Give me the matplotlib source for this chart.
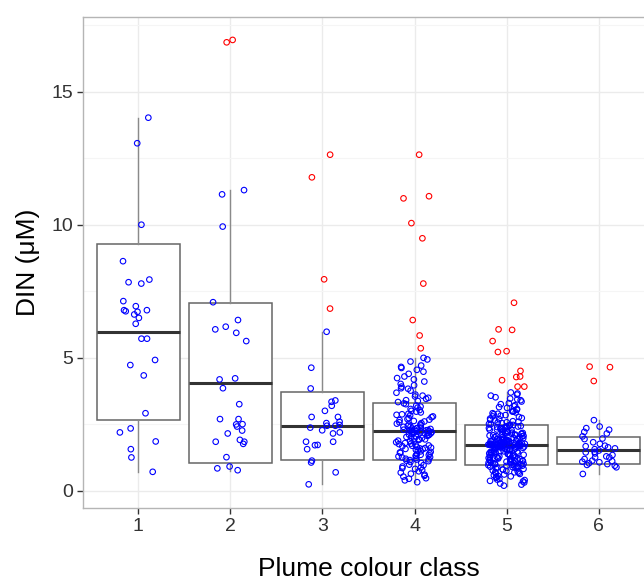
import numpy as np
import matplotlib.pyplot as plt

plt.rcParams["font.family"] = ["Liberation Sans", "DejaVu Sans"]

classes = [1, 2, 3, 4, 5, 6]

# box statistics per plume colour class
q1 = [2.66, 1.04, 1.17, 1.16, 0.99, 1.01]
med = [5.98, 4.07, 2.45, 2.25, 1.73, 1.54]
q3 = [9.28, 7.05, 3.70, 3.32, 2.47, 2.03]
whislo = [0.72, 0.76, 0.25, 0.33, 0.20, 0.64]
whishi = [14.02, 11.30, 5.98, 5.00, 3.70, 2.66]

# DIN samples (uM) inside the whiskers
din_1 = [8.63, 7.84, 7.94, 7.79, 7.13, 6.94, 6.73, 6.75, 6.79, 6.79, 6.63, 6.50,
         6.28, 5.72, 5.72, 4.92, 4.73, 4.34, 2.92, 2.35, 2.20, 1.86, 1.57, 1.26,
         0.72, 10.0, 13.06, 14.02]
din_2 = [7.09, 6.42, 6.17, 6.07, 5.94, 5.63, 4.19, 4.23, 3.86, 3.26, 2.70, 2.70,
         2.51, 2.50, 2.42, 2.27, 2.16, 1.92, 1.85, 1.85, 1.77, 1.27, 0.92, 0.85,
         0.78, 9.93, 11.30, 11.14]
din_3 = [5.98, 4.63, 3.85, 3.35, 3.20, 3.01, 2.78, 2.78, 2.45, 2.38, 2.48, 2.45,
         2.55, 2.20, 2.16, 1.85, 1.85, 1.73, 1.57, 1.07, 1.14, 0.70, 0.25, 1.72,
         2.28, 3.40, 2.60]
din_4 = [3.34, 4.71, 2.26, 1.52, 0.88, 2.95, 3.62, 1.18, 2.41, 1.97,
         4.02, 2.19, 1.33, 0.61, 3.08, 2.53, 1.74, 2.30, 4.48, 1.09,
         2.84, 1.41, 3.77, 2.12, 0.46, 1.86, 2.66, 3.21, 1.27, 2.35,
         5.00, 1.63, 2.07, 0.97, 3.46, 2.28, 1.58, 4.19, 2.74, 1.21,
         0.33, 2.44, 1.92, 3.13, 1.45, 2.22, 4.86, 0.79, 2.58, 1.68,
         3.55, 2.01, 1.36, 2.90, 0.54, 2.33, 1.80, 3.92, 1.14, 2.49,
         4.30, 1.55, 2.16, 0.69, 3.01, 2.38, 1.71, 2.80, 4.62, 1.24,
         2.24, 1.89, 3.38, 0.92, 2.61, 1.47, 2.04, 3.69, 1.30, 2.27,
         4.94, 0.40, 2.46, 1.78, 3.26, 1.99, 2.70, 1.16, 4.11, 2.31,
         1.61, 0.83, 2.88, 2.14, 3.50, 1.39, 2.21, 1.83, 4.40, 0.57,
         2.55, 1.66, 3.17, 2.09, 1.05, 2.98, 2.36, 1.49, 3.84, 2.25,
         0.74, 1.94, 2.63, 4.24, 1.32, 2.18, 3.04, 1.60, 2.42, 0.99,
         3.58, 1.76, 2.29, 1.12, 2.77, 4.66, 1.43, 2.11, 0.65, 3.41,
         1.87, 2.50, 1.26, 3.97, 2.20, 1.57, 2.86, 0.48, 2.34, 1.70,
         4.55, 2.03, 1.35, 3.29, 2.24, 0.86, 1.95, 2.68, 1.19, 3.86]
din_5 = [1.72, 0.98, 2.46, 1.35, 3.12, 1.81, 0.62, 2.05, 1.58, 2.88,
         1.24, 1.76, 0.41, 2.31, 1.66, 3.52, 1.09, 1.93, 2.60, 0.85,
         1.70, 2.17, 1.43, 0.73, 2.74, 1.88, 1.15, 3.30, 1.62, 2.39,
         0.95, 1.79, 2.52, 1.31, 0.28, 2.09, 1.74, 3.66, 1.02, 1.55,
         2.22, 1.84, 0.68, 2.95, 1.47, 1.71, 1.19, 2.43, 0.90, 3.05,
         1.68, 2.12, 1.38, 0.52, 2.65, 1.77, 1.06, 1.99, 3.41, 1.28,
         1.73, 0.80, 2.34, 1.60, 1.92, 1.12, 2.80, 0.36, 1.75, 2.18,
         1.50, 3.22, 0.97, 1.86, 2.48, 1.21, 1.69, 0.59, 2.03, 3.70,
         1.41, 1.78, 2.27, 0.88, 1.64, 2.99, 1.16, 1.95, 0.45, 2.57,
         1.74, 1.33, 2.14, 1.03, 3.15, 1.82, 0.77, 2.40, 1.57, 1.26,
         2.70, 1.72, 0.93, 2.07, 1.45, 3.58, 1.89, 1.10, 0.20, 2.29,
         1.66, 2.51, 1.36, 0.83, 1.97, 2.85, 1.22, 1.76, 0.66, 2.20,
         3.36, 1.53, 1.80, 1.00, 2.44, 1.70, 0.50, 2.10, 1.30, 2.92,
         1.85, 1.18, 2.36, 0.91, 1.62, 3.08, 1.74, 0.71, 2.01, 1.48,
         2.62, 1.39, 1.91, 0.32, 2.24, 1.77, 1.07, 3.47, 1.59, 2.15,
         0.86, 1.71, 2.55, 1.25, 1.94, 0.57, 2.78, 1.44, 1.83, 1.13,
         2.33, 3.26, 1.67, 0.99, 2.06, 1.52, 0.75, 2.45, 1.79, 1.20,
         2.98, 1.73, 0.43, 2.19, 1.34, 1.87, 2.67, 1.05, 3.62, 1.61,
         0.94, 2.38, 1.75, 1.28, 2.02, 0.64, 2.83, 1.49, 1.90, 1.11,
         3.18, 1.69, 2.26, 0.81, 1.56, 2.49, 1.37, 0.24, 1.98, 2.72,
         1.72, 1.17, 2.11, 0.89, 3.00, 1.84, 1.42, 2.42, 0.55, 1.65,
         1.96, 2.30, 1.02, 3.44, 1.78, 1.23, 2.58, 0.70, 1.54, 2.08,
         1.81, 0.96, 2.35, 1.46, 1.74, 2.90, 1.14, 0.38, 1.88, 2.16]
din_6 = [2.66, 2.42, 2.36, 2.22, 2.16, 2.05, 1.97, 1.95, 1.70, 1.64, 1.60, 1.57,
         1.47, 1.41, 1.30, 1.26, 1.20, 1.14, 1.10, 1.04, 1.01, 0.95, 0.89, 0.64,
         1.26, 1.35, 1.52, 1.83, 2.30, 1.12, 1.68, 1.08, 1.45, 0.98, 1.77]

# outlying samples
out_1 = []
out_2 = [16.94, 16.85]
out_3 = [12.63, 11.78, 7.95, 6.85]
out_4 = [12.63, 11.07, 10.99, 10.06, 9.49, 7.79, 6.42, 5.84, 5.36]
out_5 = [7.07, 6.07, 6.05, 5.63, 5.25, 5.22, 4.51, 4.30, 4.28, 4.16, 3.92, 3.92]
out_6 = [4.67, 4.65, 4.13]

inliers = [din_1, din_2, din_3, din_4, din_5, din_6]
outliers = [out_1, out_2, out_3, out_4, out_5, out_6]

fig = plt.figure(figsize=(6.44, 5.81), dpi=100)
ax = fig.add_axes([0.1289, 0.1256, 0.8866, 0.8451])

stats = [dict(q1=a, med=m, q3=b, whislo=lo, whishi=hi, fliers=[])
         for a, m, b, lo, hi in zip(q1, med, q3, whislo, whishi)]
ax.bxp(stats, positions=classes, widths=0.9, showcaps=False, showfliers=False,
       patch_artist=True,
       boxprops=dict(facecolor="white", edgecolor="#666666", linewidth=1.1),
       whiskerprops=dict(color="#8a8a8a", linewidth=1.0),
       medianprops=dict(color="#333333", linewidth=2.2),
       zorder=2)

# horizontal jitter, as geom_jitter does
rng = np.random.default_rng(3)
for cls, vals, outs in zip(classes, inliers, outliers):
    xs = cls + rng.uniform(-0.2, 0.2, len(vals))
    ax.scatter(xs, vals, s=16, facecolors="none", edgecolors="#0000ff",
               linewidths=0.8, zorder=3)
    if outs:
        xo = cls + rng.uniform(-0.2, 0.2, len(outs))
        ax.scatter(xo, outs, s=16, facecolors="none", edgecolors="#ff0000",
                   linewidths=0.8, zorder=3)

ax.set_xlim(0.4, 6.6)
ax.set_ylim(-0.64, 17.8)
ax.set_xticks(classes)
ax.set_xticklabels([str(c) for c in classes])
ax.set_yticks([0, 5, 10, 15])
ax.set_yticks([2.5, 7.5, 12.5, 17.5], minor=True)

ax.grid(True, which="major", color="#ebebeb", linewidth=1.0, zorder=0)
ax.grid(True, which="minor", axis="y", color="#f5f5f5", linewidth=0.8, zorder=0)
ax.set_axisbelow(True)

for sp in ax.spines.values():
    sp.set_color("#b5b5b5")
    sp.set_linewidth(1.0)

ax.tick_params(axis="both", which="major", length=4, width=1, color="#333333",
               labelsize=14, labelcolor="#333333", pad=3)
ax.tick_params(axis="both", which="minor", length=0)

ax.set_xlabel("Plume colour class", fontsize=19, labelpad=16)
ax.set_ylabel("DIN (μM)", fontsize=19, labelpad=8)

fig.savefig("out.png", dpi=100)
